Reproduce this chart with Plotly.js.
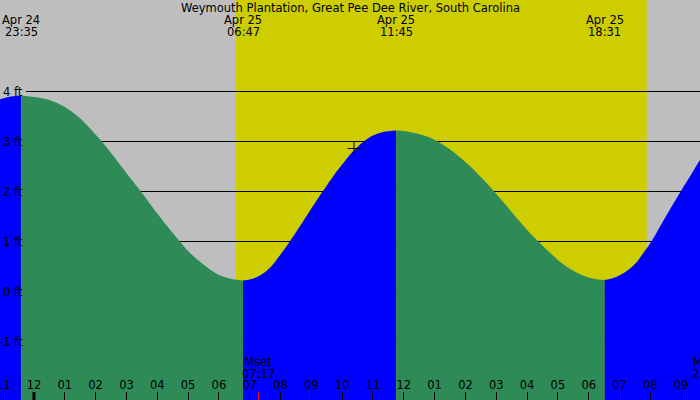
<!DOCTYPE html>
<html>
<head>
<meta charset="utf-8">
<script src="https://cdn.plot.ly/plotly-3.0.1.min.js"></script>
<style>html,body{margin:0;padding:0;background:#bebebe;}#chart{width:700px;height:400px;}</style>
</head>
<body>
<div id="chart"></div>
<script>
// ---- data ----
const chartTitle = 'Weymouth Plantation, Great Pee Dee River, South Carolina';
const tideTimes = [
  '2024-04-24 22:53', '2024-04-24 23:10', '2024-04-24 23:35',
  '2024-04-25 00:00', '2024-04-25 00:30', '2024-04-25 01:00', '2024-04-25 01:30',
  '2024-04-25 02:00', '2024-04-25 02:12', '2024-04-25 02:30', '2024-04-25 03:00',
  '2024-04-25 03:28', '2024-04-25 04:00', '2024-04-25 04:44', '2024-04-25 05:00',
  '2024-04-25 05:30', '2024-04-25 06:00', '2024-04-25 06:30', '2024-04-25 06:47',
  '2024-04-25 07:00', '2024-04-25 07:20', '2024-04-25 07:40', '2024-04-25 08:00',
  '2024-04-25 08:18', '2024-04-25 08:45', '2024-04-25 09:00', '2024-04-25 09:22',
  '2024-04-25 09:45', '2024-04-25 10:00', '2024-04-25 10:20', '2024-04-25 10:42',
  '2024-04-25 11:00', '2024-04-25 11:20', '2024-04-25 11:45',
  '2024-04-25 12:00', '2024-04-25 12:20', '2024-04-25 12:45', '2024-04-25 13:06',
  '2024-04-25 13:30', '2024-04-25 14:00', '2024-04-25 14:30', '2024-04-25 14:56',
  '2024-04-25 15:30', '2024-04-25 16:00', '2024-04-25 16:22', '2024-04-25 16:45',
  '2024-04-25 17:10', '2024-04-25 17:40', '2024-04-25 18:00', '2024-04-25 18:15',
  '2024-04-25 18:31', '2024-04-25 18:45', '2024-04-25 19:10', '2024-04-25 19:30',
  '2024-04-25 19:45', '2024-04-25 20:02', '2024-04-25 20:30', '2024-04-25 20:59',
  '2024-04-25 21:20', '2024-04-25 21:37'
];
const tideFt = [
  3.84, 3.89, 3.92,
  3.89, 3.83, 3.69, 3.46,
  3.14, 3.00, 2.77, 2.37,
  2.00, 1.56, 1.00, 0.81,
  0.54, 0.33, 0.24, 0.22,
  0.24, 0.32, 0.48, 0.74,
  1.00, 1.42, 1.66, 2.00,
  2.34, 2.54, 2.79, 3.00,
  3.12, 3.19, 3.22,
  3.21, 3.17, 3.10, 3.00,
  2.84, 2.59, 2.29, 2.00,
  1.59, 1.23, 1.00, 0.77,
  0.55, 0.36, 0.28, 0.245,
  0.23, 0.26, 0.38, 0.55,
  0.75, 1.00, 1.50, 2.00,
  2.35, 2.64
];
const extremeTimes = ['2024-04-24 23:35', '2024-04-25 06:47', '2024-04-25 11:45', '2024-04-25 18:31'];
const extremeDates = ['Apr 24', 'Apr 25', 'Apr 25', 'Apr 25'];
const extremeClock = ['23:35', '06:47', '11:45', '18:31'];
const levelFt = [-1, 0, 1, 2, 3, 4];
const levelLabels = ['-1 ft', '0 ft', '1 ft', '2 ft', '3 ft', '4 ft'];
const sunrise = '2024-04-25 06:33';
const sunset = '2024-04-25 19:53';
const moonTimes = ['2024-04-25 07:17', '2024-04-25 21:54'];
const moonNames = ['Mset', 'Mrise'];
const moonClock = ['07:17', '21:54'];
const midnight = '2024-04-25 00:00';
const nowTime = ['2024-04-25 10:23'];
const nowFt = [2.86];

// ---- layout constants ----
const xRange = ['2024-04-24 22:53:50', '2024-04-25 21:36:40'];
const yRange = [-2.17, 5.83];
const W = 700, H = 400;
const FONT = 'DejaVu Sans';
const FS = 11.5;
const ms = s => Date.parse(s.replace(' ', 'T') + 'Z');
const xFrac = s => (ms(s) - ms(xRange[0])) / (ms(xRange[1]) - ms(xRange[0]));

// ---- build traces: split curve at extremes, green falling / blue rising ----
const traces = [];
const cut = [0];
extremeTimes.forEach(t => { const i = tideTimes.indexOf(t); if (i > 0) cut.push(i); });
cut.push(tideTimes.length - 1);
for (let k = 0; k < cut.length - 1; k++) {
  const a = cut[k], b = cut[k + 1];
  const xs = tideTimes.slice(a, b + 1), ys = tideFt.slice(a, b + 1);
  const rising = ys[ys.length - 1] > ys[0];
  const col = rising ? '#0000ff' : '#2e8b57';
  traces.push({x: [xs[0], xs[xs.length - 1]], y: [yRange[0] - 1, yRange[0] - 1], mode: 'lines',
    line: {width: 0}, hoverinfo: 'skip', showlegend: false});
  traces.push({x: xs, y: ys, mode: 'lines', line: {width: 0, shape: 'spline', smoothing: 1},
    fill: 'tonexty', fillcolor: col, hoverinfo: 'skip', showlegend: false});
}
traces.push({x: nowTime, y: nowFt, mode: 'markers', showlegend: false,
  marker: {symbol: 'cross-thin', size: 9, line: {width: 1, color: '#000'}}});

// ---- shapes ----
const shapes = [
  {type: 'rect', xref: 'x', yref: 'paper', x0: sunrise, x1: sunset, y0: 0, y1: 1,
   fillcolor: '#cdcd00', line: {width: 0}, layer: 'below'}
];
levelFt.forEach(v => shapes.push({type: 'line', xref: 'paper', yref: 'y', x0: 26 / W, x1: 1,
  y0: v, y1: v, line: {color: '#000', width: 1}, layer: 'below'}));
shapes.push({type: 'line', xref: 'x', yref: 'paper', x0: midnight, x1: midnight, y0: 0, y1: 8 / H,
  line: {color: '#000', width: 3}});
shapes.push({type: 'line', xref: 'x', yref: 'paper', x0: moonTimes[0], x1: moonTimes[0], y0: 0, y1: 8 / H,
  line: {color: '#ff0000', width: 1}});

// ---- annotations ----
const ann = [];
const txt = (x, xref, y, yref, text, xanchor) => ({x, xref, y, yref, text, showarrow: false,
  xanchor: xanchor || 'center', yanchor: 'middle', font: {family: FONT, size: FS, color: '#000'}});
ann.push(txt(0.5, 'paper', 1 - 7.5 / H, 'paper', chartTitle));
extremeTimes.forEach((t, i) => {
  ann.push(txt(xFrac(t), 'paper', 1 - 20 / H, 'paper', extremeDates[i]));
  ann.push(txt(xFrac(t), 'paper', 1 - 32 / H, 'paper', extremeClock[i]));
});
levelFt.forEach((v, i) => ann.push(txt(25 / W, 'paper', v, 'y', levelLabels[i], 'right')));
moonTimes.forEach((t, i) => {
  ann.push(txt(xFrac(t), 'paper', 1 - 362 / H, 'paper', moonNames[i]));
  ann.push(txt(xFrac(t), 'paper', 1 - 373.5 / H, 'paper', moonClock[i]));
});

const layout = {
  width: W, height: H,
  margin: {l: 0, r: 0, t: 0, b: 0, pad: 0},
  paper_bgcolor: '#bebebe', plot_bgcolor: '#bebebe',
  showlegend: false,
  xaxis: {type: 'date', range: xRange, showgrid: false, zeroline: false, showline: false,
    tick0: midnight, dtick: 3600000, tickformat: '%I', ticks: 'inside', ticklen: 8,
    tickcolor: '#000', tickwidth: 1, ticklabelposition: 'inside', ticklabeloverflow: 'allow',
    tickfont: {family: FONT, size: FS, color: '#000'}, fixedrange: true},
  yaxis: {range: yRange, visible: false, fixedrange: true},
  shapes: shapes,
  annotations: ann,
  font: {family: FONT, size: FS, color: '#000'}
};
Plotly.newPlot('chart', traces, layout, {staticPlot: true, displayModeBar: false});
</script>
</body>
</html>
